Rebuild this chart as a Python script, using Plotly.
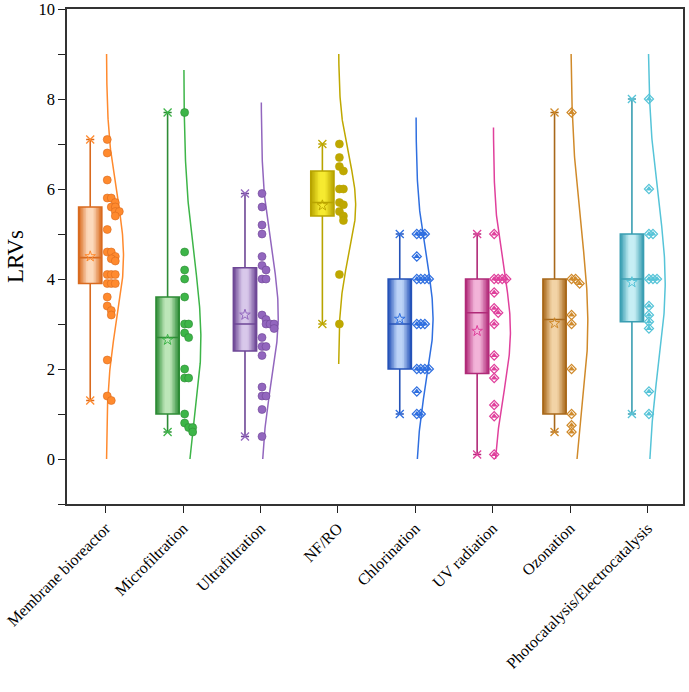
import numpy as np
import plotly.graph_objects as go

categories = ["Membrane bioreactor", "Microfiltration", "Ultrafiltration", "NF/RO",
              "Chlorination", "UV radiation", "Ozonation", "Photocatalysis/Electrocatalysis"]

mbr = [7.1, 6.8, 6.2, 5.8, 5.8, 5.7, 5.6, 5.6, 5.5, 5.5, 5.4, 5.1, 4.6, 4.6, 4.5,
       4.45, 4.4, 4.1, 4.1, 4.1, 3.9, 3.9, 3.9, 3.6, 3.4, 3.3, 3.2, 2.2, 1.4, 1.3]
micro = [7.7, 4.6, 4.2, 4.0, 3.6, 3.0, 3.0, 2.8, 2.7, 2.0, 1.8, 1.8, 1.0, 0.8, 0.7, 0.7, 0.6]
ultra = [5.9, 5.6, 5.2, 5.0, 4.5, 4.3, 4.2, 4.0, 4.0, 3.2, 3.1, 3.0, 3.0, 3.0, 2.9, 2.7,
         2.5, 2.5, 2.3, 1.6, 1.4, 1.4, 1.1, 0.5]
nfro = [7.0, 6.7, 6.5, 6.4, 6.0, 6.0, 5.7, 5.65, 5.5, 5.4, 5.3, 4.1, 3.0]
chlor = [5.0, 5.0, 5.0, 4.5, 4.0, 4.0, 4.0, 4.0, 3.0, 3.0, 3.0, 2.0, 2.0, 2.0, 2.0, 1.5, 1.0, 1.0]
uv = [5.0, 4.0, 4.0, 4.0, 4.0, 3.7, 3.35, 3.25, 3.0, 2.3, 2.0, 1.8, 1.2, 0.95, 0.1]
ozone = [7.7, 4.0, 4.0, 3.9, 3.2, 3.0, 2.0, 1.0, 0.75, 0.6]
photo = [8.0, 6.0, 5.0, 5.0, 4.0, 4.0, 4.0, 3.4, 3.2, 3.05, 2.9, 1.5, 1.0]

series = [mbr, micro, ultra, nfro, chlor, uv, ozone, photo]

# (main line colour, dark edge, light centre)
colors = [("#FF8A2E", "#D96A1E", "#FCD9BC"),
          ("#3DB548", "#2E8C36", "#BDE6B8"),
          ("#9266BE", "#6E4796", "#D8C8EA"),
          ("#BFA800", "#B8A400", "#F6EA30"),
          ("#2F6FE0", "#2452B8", "#BCD3F7"),
          ("#E0409C", "#B02A78", "#F2B3D8"),
          ("#D08A2A", "#A8681A", "#F2D3A6"),
          ("#56C4D8", "#3A9EB2", "#C6EEF4")]
circle_markers = [True, True, True, True, False, False, False, False]

BOX_SHIFT = -0.2
BOX_W = 0.3


def hex2rgb(h):
    h = h.lstrip("#")
    return tuple(int(h[i:i + 2], 16) for i in (0, 2, 4))


def mix(c1, c2, t):
    a, b = hex2rgb(c1), hex2rgb(c2)
    return "rgb(%d,%d,%d)" % tuple(round(a[i] + (b[i] - a[i]) * t) for i in range(3))


fig = go.Figure()

for i, (vals, (main, dark, light)) in enumerate(zip(series, colors)):
    vals = np.array(vals, dtype=float)
    bx = i + BOX_SHIFT
    # gradient box layers
    widths = [0.30, 0.27, 0.23, 0.19, 0.15, 0.11, 0.07]
    for k, w in enumerate(widths):
        t = k / (len(widths) - 1)
        col = mix(dark, light, min(1.0, t * 1.1))
        fig.add_trace(go.Box(x=[bx] * len(vals), y=vals, width=w, fillcolor=col,
                             line=dict(color=col, width=0), boxpoints=False,
                             quartilemethod="inclusive",
                             whiskerwidth=0, showlegend=False, hoverinfo="skip"))
    # outline
    fig.add_trace(go.Box(x=[bx] * len(vals), y=vals, width=BOX_W, fillcolor="rgba(0,0,0,0)",
                         line=dict(color=dark, width=1.6), quartilemethod="inclusive",
                         boxpoints=False, whiskerwidth=0.35, showlegend=False))
    # mean star and min/max crosses
    fig.add_trace(go.Scatter(x=[bx], y=[vals.mean()], mode="markers",
                             marker=dict(symbol="star-open", size=8, color=main,
                                         line=dict(width=1, color=main)),
                             showlegend=False))
    fig.add_trace(go.Scatter(x=[bx, bx], y=[vals.min(), vals.max()], mode="markers",
                             marker=dict(symbol="x-thin-open", size=8, color=main,
                                         line=dict(width=1.3, color=main)),
                             showlegend=False))
    # normal distribution curve
    m, s = vals.mean(), vals.std(ddof=1)
    yy = np.linspace(max(0.0, m - 3.25 * s), min(9.0, m + 3.25 * s), 200)
    xx = i + 0.01 + 0.22 * np.exp(-0.5 * ((yy - m) / s) ** 2)
    fig.add_trace(go.Scatter(x=xx, y=yy, mode="lines", line=dict(color=main, width=1.5),
                             showlegend=False))
    # swarm-placed points
    order = np.argsort(-vals)
    placed = []
    px = np.zeros(len(vals))
    for idx in order:
        v = vals[idx]
        k = sum(1 for p in placed if abs(p - v) < 0.12)
        placed.append(v)
        px[idx] = i + 0.02 + 0.052 * k
    if circle_markers[i]:
        fig.add_trace(go.Scatter(x=px, y=vals, mode="markers",
                                 marker=dict(symbol="circle", size=8, color=main,
                                             line=dict(width=0.6, color=dark)),
                                 showlegend=False))
    else:
        fig.add_trace(go.Scatter(x=px, y=vals, mode="markers",
                                 marker=dict(symbol="diamond-open", size=7, color=main,
                                             line=dict(width=1.2, color=main)),
                                 showlegend=False))
        fig.add_trace(go.Scatter(x=px, y=vals, mode="markers",
                                 marker=dict(symbol="triangle-up", size=6, color=main,
                                             line=dict(width=0)),
                                 showlegend=False))

fig.update_layout(
    width=689, height=692,
    margin=dict(l=67, r=6, t=9, b=188),
    paper_bgcolor="white", plot_bgcolor="white",
    boxmode="overlay",
    font=dict(family="Liberation Serif, Times New Roman, serif", color="black"),
    xaxis=dict(range=[-0.5, 7.46], tickmode="array", tickvals=list(range(8)),
               ticktext=categories, tickangle=-45, ticks="outside", ticklen=7,
               tickwidth=1.3, tickcolor="#222", showline=True, linecolor="#333",
               linewidth=1.5, mirror=True, showgrid=False, zeroline=False,
               automargin=False, ticklabeloverflow="allow", tickfont=dict(size=16)),
    yaxis=dict(range=[-1, 10], tickmode="array", tickvals=[0, 2, 4, 6, 8, 10],
               ticks="outside", ticklen=7, tickwidth=1.3, tickcolor="#222",
               minor=dict(tickmode="array", tickvals=[-1, 1, 3, 5, 7, 9], ticks="outside",
                          ticklen=7, tickwidth=1.3, tickcolor="#222"),
               showline=True, linecolor="#333", linewidth=1.5, mirror=True,
               showgrid=False, zeroline=False, tickfont=dict(size=16.5), automargin=False,
               ticklabeloverflow="allow",
               title=dict(text="LRVs", font=dict(size=23), standoff=8)),
)

fig.write_html("out.html", config={"displayModeBar": False},
               post_script="document.body.style.margin='0';document.body.style.overflow='hidden';")
